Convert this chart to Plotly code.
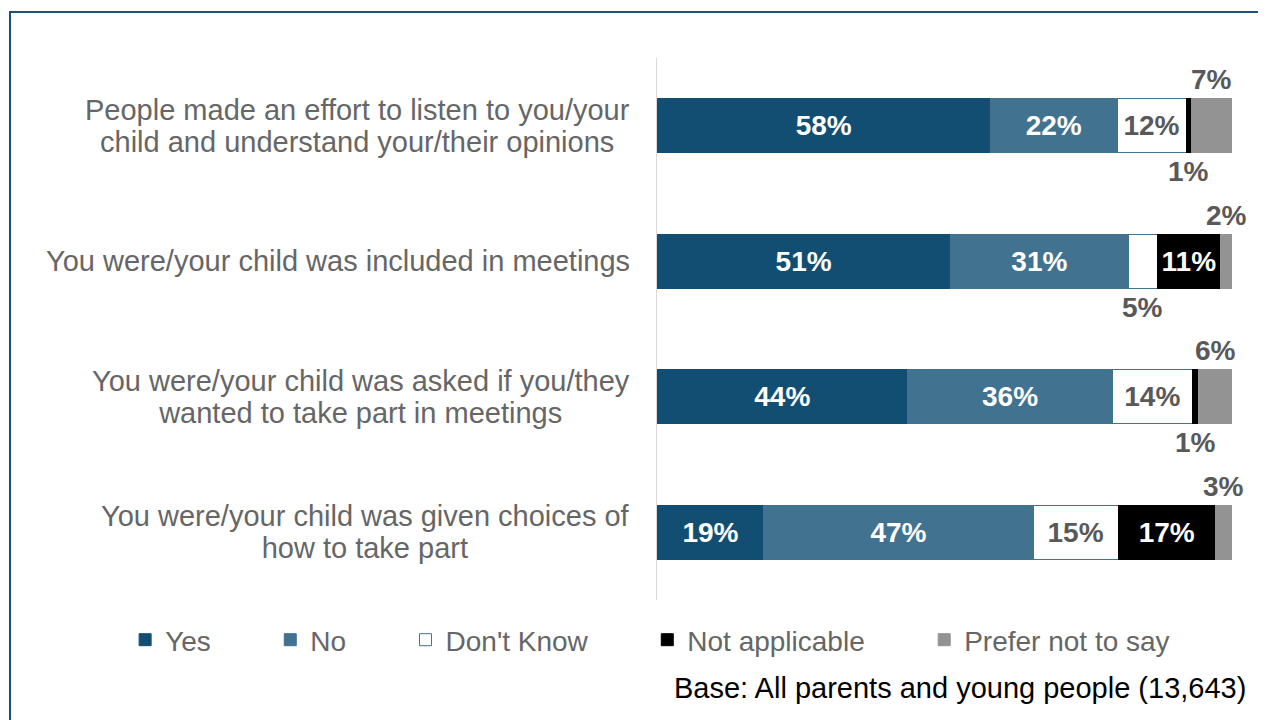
import plotly.graph_objects as go

categories = [
    ["People made an effort to listen to you/your", "child and understand your/their opinions"],
    ["You were/your child was included in meetings"],
    ["You were/your child was asked if you/they", "wanted to take part in meetings"],
    ["You were/your child was given choices of", "how to take part"],
]
series_names = ["Yes", "No", "Don't Know", "Not applicable", "Prefer not to say"]
yes_vals = [58.0, 51.0, 43.6, 18.6]
no_vals = [22.0, 31.0, 35.6, 46.8]
dont_know_vals = [12.0, 5.0, 13.9, 14.8]
not_applicable_vals = [1.0, 11.0, 1.0, 16.9]
prefer_not_vals = [7.0, 2.0, 5.9, 2.9]
base_note = "Base: All parents and young people (13,643)"

series_values = [yes_vals, no_vals, dont_know_vals, not_applicable_vals, prefer_not_vals]
fill_colors = ["#124e72", "#41728f", "#ffffff", "#000000", "#939393"]
line_colors = ["#124e72", "#41728f", "#41728f", "#000000", "#939393"]
text_colors = ["#ffffff", "#ffffff", "#595959", "#ffffff", "#595959"]
outside_above = [False, False, False, False, True]

GRAY = "#595959"
LABEL_GRAY = "#666666"
FONT = "Liberation Sans, Arial, sans-serif"
NBSP = "\u00a0"

fig = go.Figure()
annotations = []
for s, (name, vals) in enumerate(zip(series_names, series_values)):
    texts = []
    for i, v in enumerate(vals):
        lab = f"{round(v):d}%"
        if v >= 10:
            texts.append(lab)
        else:
            texts.append("")
            left = sum(series_values[k][i] for k in range(s))
            annotations.append(dict(
                x=left + v / 2, y=i, xref="x", yref="y", text=f"<b>{lab}</b>",
                showarrow=False, xanchor="center", yanchor="middle",
                yshift=46 if outside_above[s] else -46,
                font=dict(family=FONT, size=28, color=GRAY),
            ))
    fig.add_trace(go.Bar(
        y=list(range(len(categories))), x=vals, orientation="h",
        name=name + NBSP * 7,
        marker=dict(color=fill_colors[s], line=dict(color=line_colors[s], width=1)),
        text=texts, textposition="inside", insidetextanchor="middle",
        textangle=0, constraintext="none",
        textfont=dict(family=FONT, size=28, color=text_colors[s]),
        texttemplate="<b>%{text}</b>",
        hoverinfo="x+name",
    ))

for i, lines in enumerate(categories):
    label = "<br>".join(f"<span style='font-size:29px'>{ln}</span>" for ln in lines)
    annotations.append(dict(
        x=0, y=i, xref="paper", yref="y", text=label, showarrow=False,
        xanchor="right", yanchor="middle", align="center", xshift=-25,
        font=dict(family=FONT, size=24.6, color=LABEL_GRAY),
    ))

annotations.append(dict(
    x=1.0278, y=-0.162, xref="paper", yref="paper", text=base_note,
    showarrow=False, xanchor="right", yanchor="middle",
    font=dict(family=FONT, size=29, color="#000000"),
))

fig.update_layout(
    barmode="stack",
    bargap=0.6,
    width=1258, height=712,
    margin=dict(l=649, r=34, t=50, b=120),
    paper_bgcolor="white", plot_bgcolor="white",
    font=dict(family=FONT, size=29, color=LABEL_GRAY),
    xaxis=dict(range=[0, 100], visible=False, fixedrange=True),
    yaxis=dict(range=[3.5, -0.5], showticklabels=False, showgrid=False,
               zeroline=False, showline=True, linecolor="#d9d9d9", linewidth=1,
               ticks="", fixedrange=True),
    showlegend=True,
    legend=dict(orientation="h", x=-0.925, xanchor="left", y=-0.0738,
                yanchor="middle", font=dict(family=FONT, size=28, color=LABEL_GRAY),
                itemwidth=30, traceorder="normal", bgcolor="rgba(0,0,0,0)"),
    annotations=annotations,
    shapes=[dict(type="rect", xref="paper", yref="paper",
                 x0=-1.1252, x1=1.2, y0=-0.4, y1=1.0849,
                 line=dict(color="#1f4e79", width=2), fillcolor="rgba(0,0,0,0)",
                 layer="below")],
)

fig.write_html("out.html")
